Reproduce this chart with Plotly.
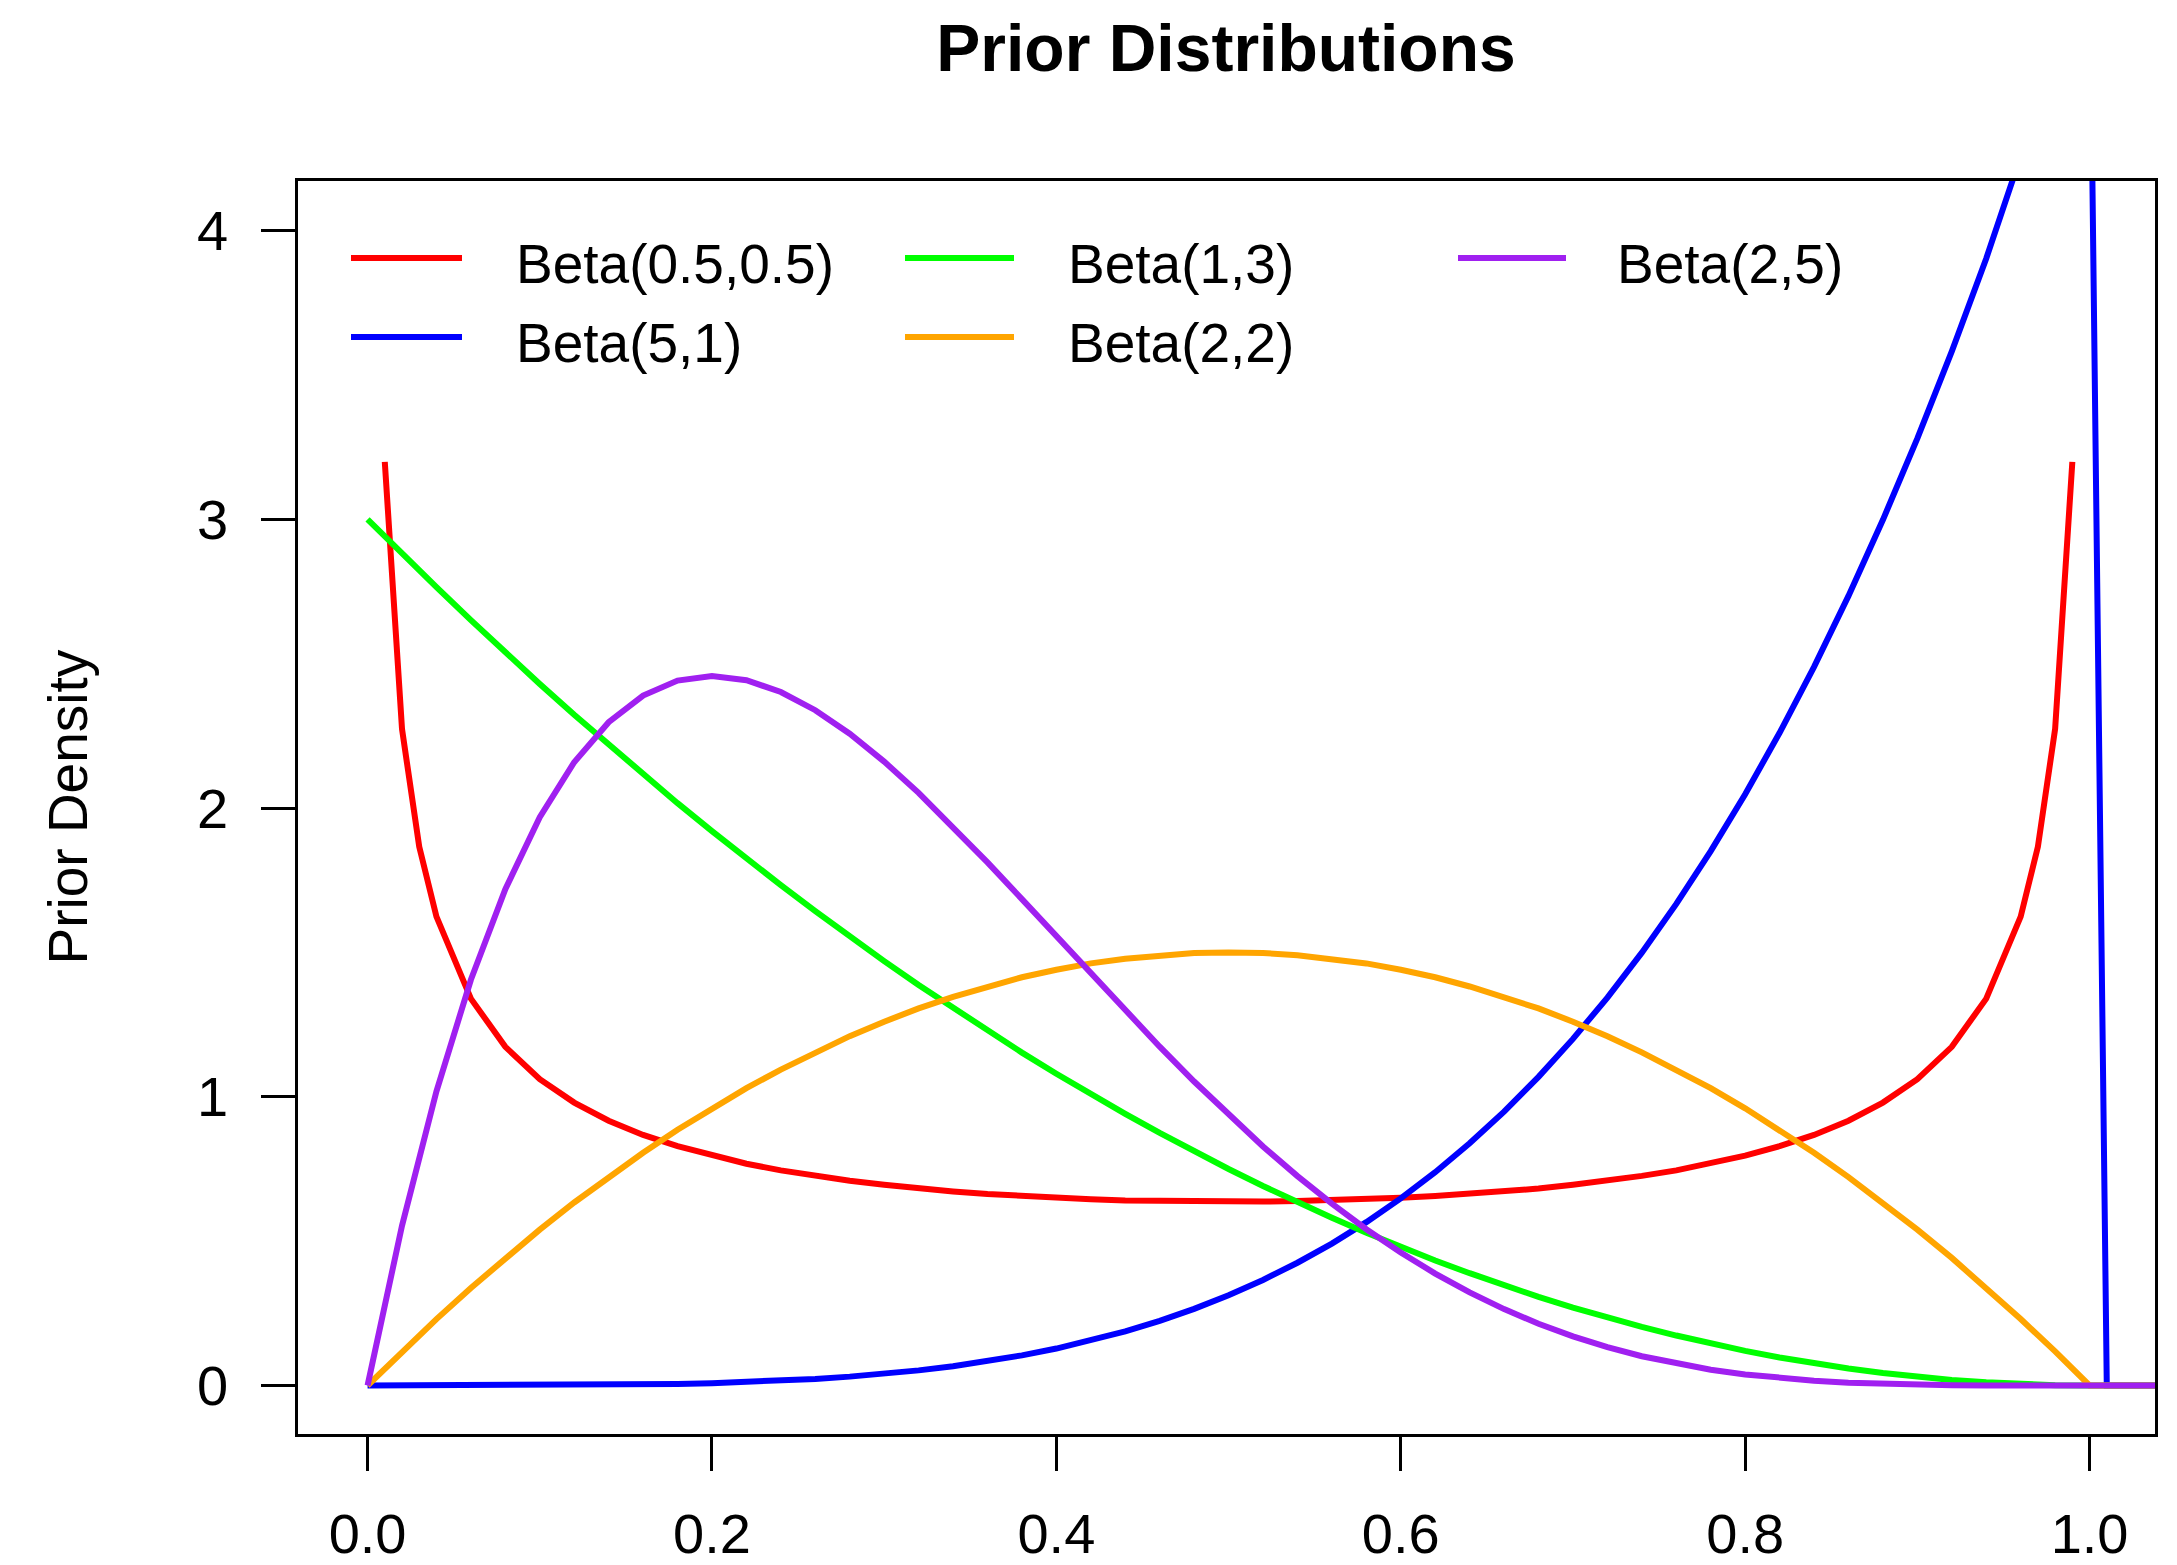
import plotly.graph_objects as go

# ---------------- data ----------------
X_GRID = [0.00, 0.02, 0.04, 0.06, 0.08, 0.10, 0.12, 0.14, 0.16, 0.18,
          0.20, 0.22, 0.24, 0.26, 0.28, 0.30, 0.32, 0.34, 0.36, 0.38,
          0.40, 0.42, 0.44, 0.46, 0.48, 0.50, 0.52, 0.54, 0.56, 0.58,
          0.60, 0.62, 0.64, 0.66, 0.68, 0.70, 0.72, 0.74, 0.76, 0.78,
          0.80, 0.82, 0.84, 0.86, 0.88, 0.90, 0.92, 0.94, 0.96, 0.98,
          1.00, 1.01, 1.06]

RED_X = [0.01, 0.02, 0.03, 0.04, 0.06, 0.08, 0.10, 0.12, 0.14, 0.16,
         0.18, 0.20, 0.22, 0.24, 0.26, 0.28, 0.30, 0.32, 0.34, 0.36,
         0.38, 0.40, 0.42, 0.44, 0.46, 0.48, 0.50, 0.52, 0.54, 0.56,
         0.58, 0.60, 0.62, 0.64, 0.66, 0.68, 0.70, 0.72, 0.74, 0.76,
         0.78, 0.80, 0.82, 0.84, 0.86, 0.88, 0.90, 0.92, 0.94, 0.96,
         0.97, 0.98, 0.99]
BETA_05_05 = [3.199, 2.274, 1.866, 1.624, 1.340, 1.173, 1.061, 0.980, 0.917, 0.868,
              0.829, 0.796, 0.768, 0.745, 0.726, 0.709, 0.695, 0.682, 0.672, 0.663,
              0.656, 0.650, 0.645, 0.641, 0.639, 0.637, 0.637, 0.637, 0.639, 0.641,
              0.645, 0.650, 0.656, 0.663, 0.672, 0.682, 0.695, 0.709, 0.726, 0.745,
              0.768, 0.796, 0.829, 0.868, 0.917, 0.980, 1.061, 1.173, 1.340, 1.624,
              1.866, 2.274, 3.199]

BETA_5_1 = [0.000, 0.000, 0.000, 0.000, 0.0002, 0.0005, 0.0010, 0.0019, 0.0033, 0.0052,
            0.008, 0.0117, 0.0166, 0.0228, 0.0307, 0.0405, 0.0524, 0.0668, 0.0840, 0.1043,
            0.128, 0.1556, 0.1874, 0.2239, 0.2654, 0.3125, 0.3656, 0.4252, 0.4917, 0.5658,
            0.648, 0.7388, 0.8389, 0.9487, 1.0691, 1.2005, 1.3437, 1.4993, 1.6681, 1.8508,
            2.048, 2.2606, 2.4894, 2.7350, 2.9985, 3.2805, 3.5820, 3.9037, 4.2467, 4.6118,
            5.000, 0.000, 0.000]

BETA_1_3 = [3.000, 2.881, 2.765, 2.651, 2.539, 2.430, 2.323, 2.219, 2.117, 2.017,
            1.920, 1.825, 1.733, 1.643, 1.555, 1.470, 1.387, 1.307, 1.229, 1.153,
            1.080, 1.009, 0.941, 0.875, 0.811, 0.750, 0.691, 0.635, 0.581, 0.529,
            0.480, 0.433, 0.389, 0.347, 0.307, 0.270, 0.235, 0.203, 0.173, 0.145,
            0.120, 0.097, 0.077, 0.059, 0.043, 0.030, 0.019, 0.011, 0.005, 0.001,
            0.000, 0.000, 0.000]

BETA_2_2 = [0.000, 0.118, 0.230, 0.338, 0.442, 0.540, 0.634, 0.722, 0.806, 0.886,
            0.960, 1.030, 1.094, 1.154, 1.210, 1.260, 1.306, 1.346, 1.382, 1.414,
            1.440, 1.462, 1.478, 1.490, 1.498, 1.500, 1.498, 1.490, 1.478, 1.462,
            1.440, 1.414, 1.382, 1.346, 1.306, 1.260, 1.210, 1.154, 1.094, 1.030,
            0.960, 0.886, 0.806, 0.722, 0.634, 0.540, 0.442, 0.338, 0.230, 0.118,
            0.000, 0.000, 0.000]

BETA_2_5 = [0.000, 0.5534, 1.0192, 1.4053, 1.7193, 1.9683, 2.1589, 2.2974, 2.3898, 2.4415,
            2.4576, 2.4430, 2.4021, 2.3390, 2.2574, 2.1609, 2.0526, 1.9354, 1.8119, 1.6845,
            1.5552, 1.4259, 1.2982, 1.1734, 1.0529, 0.9375, 0.8281, 0.7253, 0.6297, 0.5414,
            0.4608, 0.3878, 0.3225, 0.2646, 0.2139, 0.1701, 0.1328, 0.1014, 0.0756, 0.0548,
            0.0384, 0.0258, 0.0165, 0.0099, 0.0055, 0.0027, 0.0011, 0.0004, 0.0001, 0.000,
            0.000, 0.000, 0.000]

LABELS = ["Beta(0.5,0.5)", "Beta(5,1)", "Beta(1,3)", "Beta(2,2)", "Beta(2,5)"]
X_TICKS = [0.0, 0.2, 0.4, 0.6, 0.8, 1.0]
X_TICK_TEXT = ["0.0", "0.2", "0.4", "0.6", "0.8", "1.0"]
Y_TICKS = [0, 1, 2, 3, 4]
Y_TICK_TEXT = ["0", "1", "2", "3", "4"]

# ---------------- styling ----------------
COLORS = ["#FF0000", "#0000FF", "#00FF00", "#FFA500", "#A020F0"]
FONT = "Liberation Sans, Arial, sans-serif"
W, H = 2177, 1565
ML, MR, MT, MB = 298, 22, 181, 131
LW = 6

series = [(RED_X, BETA_05_05), (X_GRID, BETA_5_1), (X_GRID, BETA_1_3),
          (X_GRID, BETA_2_2), (X_GRID, BETA_2_5)]

fig = go.Figure()
for (xs, ys), name, col in zip(series, LABELS, COLORS):
    fig.add_trace(go.Scatter(x=xs, y=ys, mode="lines", name=name,
                             line=dict(color=col, width=LW), showlegend=False,
                             hoverinfo="skip"))

pw = W - ML - MR
ph = H - MT - MB


def px2paper_x(px):
    return (px - ML) / pw


def px2paper_y(py):
    return (H - MB - py) / ph


# manual R-style legend: 3 columns filled column-wise
leg_cols = [(351, 462, 514), (905, 1014, 1066), (1458, 1566, 1615)]
leg_rows = [258, 337]
shapes = []
annotations = []
for i, (lab, col) in enumerate(zip(LABELS, COLORS)):
    c, r = divmod(i, 2)
    x0, x1, xt = leg_cols[c]
    yy = leg_rows[r]
    shapes.append(dict(type="line", xref="paper", yref="paper",
                       x0=px2paper_x(x0), x1=px2paper_x(x1),
                       y0=px2paper_y(yy), y1=px2paper_y(yy),
                       line=dict(color=col, width=LW)))
    annotations.append(dict(text=lab, xref="paper", yref="paper",
                            x=px2paper_x(xt), y=px2paper_y(yy + 6),
                            xanchor="left", yanchor="middle", showarrow=False,
                            font=dict(family=FONT, size=55, color="#000000")))

# y-axis title
annotations.append(dict(text="Prior Density", xref="paper", yref="paper",
                        x=px2paper_x(67), y=0.5, textangle=-90,
                        xanchor="center", yanchor="middle", showarrow=False,
                        font=dict(family=FONT, size=55, color="#000000")))

fig.update_layout(
    width=W, height=H,
    margin=dict(l=ML, r=MR, t=MT, b=MB, autoexpand=False),
    paper_bgcolor="white", plot_bgcolor="white",
    title=dict(text="<b>Prior Distributions</b>", x=px2paper_x(1226), xref="paper",
               xanchor="center", y=1 - 48 / H, yref="container", yanchor="middle",
               font=dict(family=FONT, size=66, color="#000000")),
    shapes=shapes, annotations=annotations,
    showlegend=False,
)
fig.update_xaxes(range=[-0.0404, 1.038], tickvals=X_TICKS, ticktext=X_TICK_TEXT,
                 showgrid=False, zeroline=False, showline=True, mirror=True,
                 linecolor="black", linewidth=2.5, ticks="outside", ticklen=34,
                 tickwidth=2.5, tickcolor="black", ticklabelstandoff=15,
                 tickfont=dict(family=FONT, size=56, color="#000000"))
fig.update_yaxes(range=[-0.168, 4.172], tickvals=Y_TICKS, ticktext=Y_TICK_TEXT,
                 showgrid=False, zeroline=False, showline=True, mirror=True,
                 linecolor="black", linewidth=2.5, ticks="outside", ticklen=34,
                 tickwidth=2.5, tickcolor="black", ticklabelstandoff=22,
                 tickfont=dict(family=FONT, size=56, color="#000000"))

fig.write_html("out.html", config={"displayModeBar": False},
               post_script="document.body.style.margin='0';document.body.style.overflow='hidden';")
